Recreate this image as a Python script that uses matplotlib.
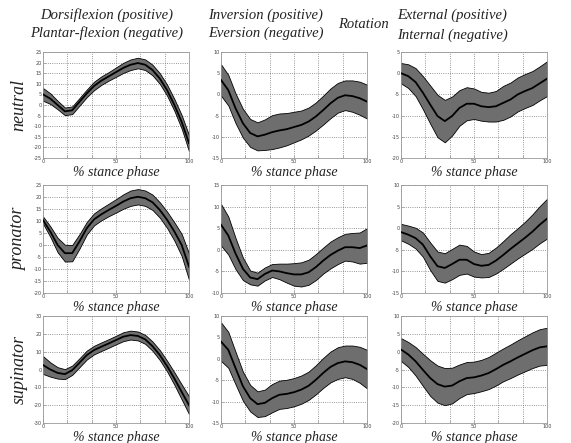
import numpy as np
import matplotlib.pyplot as plt

# % stance phase sample points
stance = [0, 5, 10, 15, 20, 25, 30, 35, 40, 45, 50, 55, 60, 65, 70, 75, 80, 85, 90, 95, 100]

# row labels / column headers
rows = ["neutral", "pronator", "supinator"]

# dorsiflexion (+) / plantar-flexion (-)
neutral_df_mean = [5, 3, 0, -3, -2.5, 1.5, 5.5, 9, 11.5, 13.5, 15.5, 17.5, 19, 19.8, 19, 16.5, 12.5, 7, 0, -8, -18]
neutral_df_sd = [3, 2.5, 2, 1.8, 1.8, 1.8, 1.8, 2, 2, 2, 2.2, 2.4, 2.5, 2.5, 2.5, 2.5, 2.5, 2.6, 2.8, 3.2, 3.8]
pronator_df_mean = [10.4, 5.6, 0, -3.4, -3.4, 1.5, 7, 10.7, 12.8, 14.6, 16.3, 18.1, 19.5, 20.1, 19.5, 17.8, 14.6, 10.5, 5.6, 0, -9]
pronator_df_sd = [1.5, 2.2, 3, 3.5, 3.4, 3, 2.6, 2.5, 2.5, 2.6, 2.8, 3, 3.2, 3.2, 3.2, 3.2, 3.2, 3.4, 3.8, 4.6, 5.5]
supinator_df_mean = [2.5, 0, -1.9, -2.6, -0.4, 3.8, 8.1, 10.9, 12.8, 14.6, 16.5, 18.4, 19.3, 18.8, 16.9, 13.1, 8.1, 1.9, -5.1, -12.6, -20]
supinator_df_sd = [5, 4, 3.2, 2.8, 2.6, 2.5, 2.5, 2.4, 2.4, 2.4, 2.4, 2.5, 2.5, 2.5, 2.5, 2.6, 2.8, 3, 3.5, 4.2, 5]

# inversion (+) / eversion (-)
neutral_inv_mean = [3.4, 1.0, -3.3, -6.8, -9.1, -9.9, -9.5, -8.9, -8.5, -8.2, -7.7, -7.2, -6.4, -5.2, -3.7, -2.1, -0.8, -0.2, -0.4, -0.9, -1.7]
neutral_inv_sd = [3.7, 3.6, 3.5, 3.4, 3.3, 3.3, 3.6, 4, 4, 3.8, 3.6, 3.4, 3.3, 3.3, 3.4, 3.5, 3.5, 3.5, 3.7, 3.9, 4]
pronator_inv_mean = [5.8, 3.3, -0.9, -4.4, -6.4, -6.8, -5.6, -4.8, -5.0, -5.4, -5.7, -5.7, -5.2, -4.0, -2.5, -1.2, -0.2, 0.6, 0.6, 0.4, 1.0]
pronator_inv_sd = [4.8, 4.4, 3.6, 2.6, 1.6, 1.5, 1.5, 1.5, 1.8, 2.2, 2.6, 2.8, 2.9, 3, 3, 3.1, 3.1, 3.1, 3.3, 3.6, 4]
supinator_inv_mean = [4.0, 2.1, -2.2, -6.4, -9.2, -10.6, -10.3, -9.2, -8.4, -8.2, -7.8, -7.2, -6.3, -4.9, -3.3, -1.9, -1.0, -0.6, -0.8, -1.4, -2.4]
supinator_inv_sd = [4.5, 4.2, 3.8, 3.4, 3.1, 3, 3.1, 3.3, 3.3, 3.3, 3.3, 3.3, 3.3, 3.4, 3.5, 3.6, 3.7, 3.7, 3.9, 4.2, 4.5]

# external (+) / internal (-) rotation
neutral_rot_mean = [0, -0.7, -2.1, -4.6, -7.4, -10.1, -11.3, -10.1, -8.2, -7.2, -7.2, -7.8, -8.0, -7.8, -7.0, -6.2, -5.0, -4.2, -3.5, -2.4, -1.3]
neutral_rot_sd = [2.4, 2.8, 3.3, 3.9, 4.5, 5, 5, 4.6, 4.2, 3.9, 3.6, 3.4, 3.4, 3.6, 4, 4, 4, 4, 4, 4, 4.1]
pronator_rot_mean = [-0.9, -1.5, -2.3, -3.8, -6.5, -8.8, -9.2, -8.3, -7.3, -7.3, -8.3, -8.7, -8.5, -7.5, -6.2, -4.8, -3.5, -2.2, -0.8, 0.8, 2.2]
pronator_rot_sd = [1.9, 2.1, 2.4, 2.8, 3.2, 3.4, 3.4, 3.5, 3.5, 3.2, 2.9, 2.7, 2.8, 3, 3.2, 3.4, 3.5, 3.7, 4, 4.3, 4.6]
supinator_rot_mean = [0.6, -0.8, -2.7, -5.1, -7.4, -9.1, -9.8, -9.5, -8.3, -7.4, -7.2, -6.7, -6.0, -4.9, -3.7, -2.7, -1.6, -0.6, 0.4, 1.2, 1.5]
supinator_rot_sd = [3.2, 3.5, 4, 4.5, 5, 5.2, 5.2, 5, 4.7, 4.5, 4.4, 4.4, 4.5, 4.6, 4.6, 4.7, 4.8, 4.9, 5, 5.1, 5.2]

means = [[neutral_df_mean, neutral_inv_mean, neutral_rot_mean],
         [pronator_df_mean, pronator_inv_mean, pronator_rot_mean],
         [supinator_df_mean, supinator_inv_mean, supinator_rot_mean]]
sds = [[neutral_df_sd, neutral_inv_sd, neutral_rot_sd],
       [pronator_df_sd, pronator_inv_sd, pronator_rot_sd],
       [supinator_df_sd, supinator_inv_sd, supinator_rot_sd]]

# y limits and tick step per panel
ylims = [[(-25, 25, 5), (-15, 10, 5), (-20, 5, 5)],
         [(-20, 25, 5), (-10, 15, 5), (-15, 10, 5)],
         [(-30, 30, 10), (-15, 10, 5), (-20, 10, 5)]]

W, H = 571, 443
col_px = [(43, 189), (221, 367), (401, 547)]
row_px = [(52, 158), (185, 293), (316, 423)]

serif = ["Liberation Serif", "DejaVu Serif"]
fig = plt.figure(figsize=(W / 100, H / 100), dpi=100)

for i in range(3):
    for j in range(3):
        x0, x1 = col_px[j]
        y0, y1 = row_px[i]
        ax = fig.add_axes([x0 / W, 1 - y1 / H, (x1 - x0) / W, (y1 - y0) / H])
        m = np.array(means[i][j])
        s = np.array(sds[i][j])
        ax.fill_between(stance, m - s, m + s, facecolor="#6e6e6e", edgecolor="black", lw=0.6, zorder=2)
        ax.plot(stance, m, color="black", lw=1.3, zorder=3)
        lo, hi, step = ylims[i][j]
        ax.set_ylim(lo, hi)
        ax.set_xlim(0, 100)
        yt = np.arange(lo, hi + step / 2, step)
        ax.set_yticks(yt)
        ax.set_yticklabels([str(int(v)) for v in yt])
        xt = np.linspace(0, 100, 7)
        ax.set_xticks(xt)
        ax.set_xticklabels(["0", "", "", "50", "", "", "100"])
        ax.tick_params(direction="in", length=2, width=0.4, labelsize=3.5,
                       labelcolor="#444444", colors="#888888", pad=1)
        ax.grid(True, linestyle=":", color="#777777", lw=0.6)
        for sp in ax.spines.values():
            sp.set_color("#999999")
            sp.set_linewidth(0.6)
        ax.set_xlabel("% stance phase", family=serif, style="italic", fontsize=10,
                      color="#222222", labelpad=1)
        if j == 0:
            fig.text(19 / W, 1 - (y0 + y1) / 2 / H, rows[i], rotation=90, ha="center", va="center",
                     family=serif, style="italic", fontsize=13, color="#222222")

hdr = dict(family=serif, style="italic", fontsize=10.5, color="#222222", va="center")
fig.text(107 / W, 1 - 15 / H, "Dorsiflexion (positive)", ha="center", **hdr)
fig.text(107 / W, 1 - 33 / H, "Plantar-flexion (negative)", ha="center", **hdr)
fig.text(208 / W, 1 - 15 / H, "Inversion (positive)", ha="left", **hdr)
fig.text(208 / W, 1 - 33 / H, "Eversion (negative)", ha="left", **hdr)
fig.text(363 / W, 1 - 25 / H, "Rotation", ha="center", **hdr)
fig.text(397 / W, 1 - 15 / H, "External (positive)", ha="left", **hdr)
fig.text(397 / W, 1 - 35 / H, "Internal (negative)", ha="left", **hdr)

fig.savefig("out.png", dpi=100, facecolor="white")
